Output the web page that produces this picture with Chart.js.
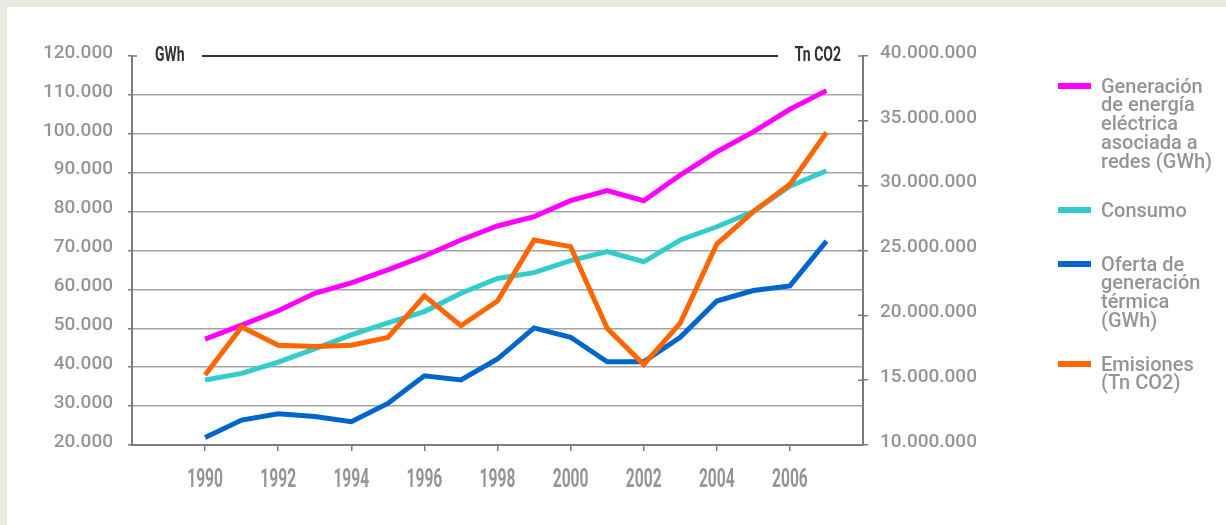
<!DOCTYPE html>
<html>
<head>
<meta charset="utf-8">
<script src="https://cdn.jsdelivr.net/npm/chart.js@4.4.1/dist/chart.umd.min.js"></script>
<style>
  html, body { margin: 0; padding: 0; }
  body { width: 1226px; height: 525px; background: #e8eae2; position: relative; overflow: hidden; }
  #panel { position: absolute; left: 7px; top: 7px; right: 0; bottom: 0; background: #fff; }
  #chart { position: absolute; left: 0; top: 0; }
  #legend { position: absolute; left: 0; top: 0; width: 1226px; height: 525px; pointer-events: none;
            font-family: Roboto, 'Noto Sans', sans-serif; font-size: 20px; font-weight: 500; line-height: 18.8px; color: #949599; }
  .item { position: absolute; left: 1058px; }
  .sw { position: absolute; left: 0; top: 6.5px; width: 33px; height: 6px; }
  .txt { position: absolute; left: 43px; top: 0; white-space: nowrap; }
</style>
</head>
<body>
<div id="panel"></div>
<canvas id="chart" width="1226" height="525"></canvas>
<div id="legend"></div>
<script>
// data
const years = [1990, 1991, 1992, 1993, 1994, 1995, 1996, 1997, 1998, 1999, 2000, 2001, 2002, 2003, 2004, 2005, 2006, 2007];
const generacion = [47200, 50800, 54500, 59000, 61700, 65000, 68600, 72700, 76300, 78700, 82800, 85400, 82800, 89400, 95400, 100500, 106300, 111100];
const consumo = [36700, 38400, 41300, 44700, 48300, 51400, 54300, 59000, 62800, 64300, 67400, 69700, 67100, 72700, 76100, 80000, 86500, 90500];
const oferta = [21900, 26400, 28000, 27300, 26000, 30700, 37800, 36700, 42100, 50100, 47700, 41400, 41400, 47700, 57000, 59700, 60900, 72400];
const emisiones = [15400000, 19100000, 17700000, 17600000, 17700000, 18300000, 21500000, 19200000, 21100000, 25800000, 25300000, 19000000, 16200000, 19400000, 25500000, 28000000, 30100000, 34100000];

const seriesNames = [
  ['Generación', 'de energía', 'eléctrica', 'asociada a', 'redes (GWh)'],
  ['Consumo'],
  ['Oferta de', 'generación', 'térmica', '(GWh)'],
  ['Emisiones', '(Tn CO2)']
];
const seriesColors = ['#ff00ff', '#33cccc', '#0066cc', '#ff6600'];
const leftUnit = 'GWh';
const rightUnit = 'Tn CO2';

const grey = '#949599';
const axisGrey = '#7c7c7c';
const dotted = v => String(v).replace(/\B(?=(\d{3})+(?!\d))/g, '.');
const pts = arr => arr.map((v, i) => ({ x: years[i], y: v }));

function line(idx, arr, axis, order) {
  return {
    label: seriesNames[idx].join(' '),
    data: pts(arr),
    yAxisID: axis,
    borderColor: seriesColors[idx],
    backgroundColor: seriesColors[idx],
    borderWidth: 5,
    pointRadius: 0,
    tension: 0,
    borderJoinStyle: 'miter',
    order: order
  };
}

// the original uses a condensed face; squeeze Roboto horizontally
function narrowText(ctx, text, x, y, sx, align) {
  ctx.save();
  ctx.translate(x, y);
  ctx.scale(sx, 1);
  ctx.textAlign = align;
  ctx.fillText(text, 0, 0);
  ctx.restore();
}

const extras = {
  id: 'extras',
  afterDraw(chart) {
    const ctx = chart.ctx;
    const xa = chart.scales.x, ya = chart.scales.y, yb = chart.scales.y1;
    const top = ya.getPixelForValue(120000);
    ctx.save();
    // header rule and units
    ctx.strokeStyle = '#333';
    ctx.lineWidth = 2;
    ctx.beginPath();
    ctx.moveTo(202, top);
    ctx.lineTo(778, top);
    ctx.stroke();
    ctx.fillStyle = '#333';
    ctx.font = 'bold 20px Roboto';
    ctx.textBaseline = 'alphabetic';
    narrowText(ctx, leftUnit, 155, top + 5, 0.7, 'left');
    narrowText(ctx, rightUnit, 841, top + 5, 0.7, 'right');
    // x tick labels
    ctx.fillStyle = grey;
    ctx.font = 'bold 26px Roboto';
    xa.ticks.forEach(t => {
      if (t.value === 1988 || t.value === 2008) return;
      narrowText(ctx, String(t.value), xa.getPixelForValue(t.value), 487, 0.6, 'center');
    });
    // inner part of the axis ticks
    ctx.strokeStyle = axisGrey;
    ctx.lineWidth = 1.5;
    ctx.beginPath();
    ctx.moveTo(ya.right, top);
    ctx.lineTo(ya.right + 5, top);
    yb.ticks.forEach(t => {
      const p = yb.getPixelForValue(t.value);
      ctx.moveTo(yb.left - 5, p);
      ctx.lineTo(yb.left, p);
    });
    ctx.stroke();
    ctx.restore();
  }
};

new Chart(document.getElementById('chart'), {
  type: 'line',
  data: {
    datasets: [
      line(0, generacion, 'y', 3),
      line(1, consumo, 'y', 2),
      line(2, oferta, 'y', 1),
      line(3, emisiones, 'y1', 0)
    ]
  },
  options: {
    responsive: false,
    animation: false,
    layout: { padding: { top: 56, left: 0, right: 0, bottom: 0 } },
    plugins: { legend: { display: false }, tooltip: { enabled: false } },
    scales: {
      x: {
        type: 'linear',
        min: 1988,
        max: 2008,
        afterFit: s => { s.height = 80; },
        grid: {
          drawOnChartArea: false,
          tickLength: 6,
          lineWidth: 1.5,
          color: c => (c.tick && (c.tick.value === 1988 || c.tick.value === 2008)) ? 'rgba(0,0,0,0)' : axisGrey
        },
        border: { color: axisGrey, width: 2 },
        ticks: {
          stepSize: 2,
          autoSkip: false,
          maxRotation: 0,
          color: 'rgba(0,0,0,0)',
          callback: v => (v === 1988 || v === 2008) ? '' : String(v)
        }
      },
      y: {
        position: 'left',
        min: 20000,
        max: 120000,
        afterFit: s => { s.width = 132; },
        grid: {
          lineWidth: 1.5,
          tickLength: 4,
          tickColor: axisGrey,
          color: c => c.tick.value === 120000 ? 'rgba(0,0,0,0)' : (c.tick.value === 20000 ? axisGrey : '#a3a3a3')
        },
        border: { color: axisGrey, width: 2 },
        ticks: {
          stepSize: 10000,
          padding: 15,
          labelOffset: -3,
          color: grey,
          font: { family: 'Roboto', size: 19, weight: '500' },
          callback: v => dotted(v)
        }
      },
      y1: {
        position: 'right',
        min: 10000000,
        max: 40000000,
        afterFit: s => { s.width = 1226 - 863; },
        grid: { drawOnChartArea: false, tickLength: 5, lineWidth: 1.5, color: axisGrey },
        border: { color: axisGrey, width: 2 },
        ticks: {
          stepSize: 5000000,
          padding: 12,
          labelOffset: -3,
          color: grey,
          font: { family: 'Roboto', size: 19, weight: '500' },
          callback: v => dotted(v)
        }
      }
    }
  },
  plugins: [extras]
});

// legend as html text
const legendTops = [76.5, 200.5, 254.5, 354.5];
const legend = document.getElementById('legend');
seriesNames.forEach((lines, i) => {
  const item = document.createElement('div');
  item.className = 'item';
  item.style.top = legendTops[i] + 'px';
  const sw = document.createElement('div');
  sw.className = 'sw';
  sw.style.background = seriesColors[i];
  const txt = document.createElement('div');
  txt.className = 'txt';
  txt.innerHTML = lines.join('<br>');
  item.appendChild(sw);
  item.appendChild(txt);
  legend.appendChild(item);
});
</script>
</body>
</html>
